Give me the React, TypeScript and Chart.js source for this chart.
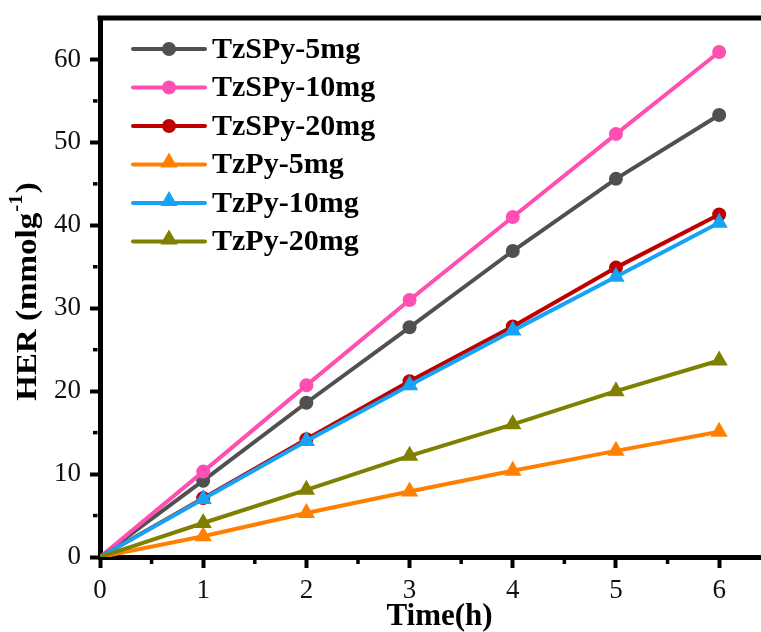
import React, { useEffect, useRef } from 'react';
import { Chart, registerables } from 'chart.js';

Chart.register(...registerables);

// ---- data ----
const times = [0, 1, 2, 3, 4, 5, 6];
const seriesLabels = ['TzSPy-5mg', 'TzSPy-10mg', 'TzSPy-20mg', 'TzPy-5mg', 'TzPy-10mg', 'TzPy-20mg'];
const tzspy5 = [0, 9.2, 18.6, 27.7, 36.9, 45.6, 53.3];
const tzspy10 = [0, 10.3, 20.7, 31.0, 41.0, 51.0, 60.9];
const tzspy20 = [0, 7.1, 14.2, 21.2, 27.8, 34.9, 41.3];
const tzpy5 = [0, 2.5, 5.3, 7.9, 10.4, 12.8, 15.1];
const tzpy10 = [0, 7.0, 14.0, 20.7, 27.3, 33.8, 40.3];
const tzpy20 = [0, 4.1, 8.1, 12.2, 16.0, 20.0, 23.7];
const xTicks = [0, 1, 2, 3, 4, 5, 6];
const xMinorTicks = [0.5, 1.5, 2.5, 3.5, 4.5, 5.5, 6.5];
const yTicks = [0, 10, 20, 30, 40, 50, 60];
const yMinorTicks = [5, 15, 25, 35, 45, 55];
const xTitle = 'Time(h)';
const yTitleMain = 'HER (mmolg';
const yTitleSup = '-1';
const yTitleEnd = ')';

const seriesValues = [tzspy5, tzspy10, tzspy20, tzpy5, tzpy10, tzpy20];
const seriesColors = ['#505050', '#FF4FB2', '#C00000', '#FF8000', '#16A2F5', '#808000'];
const seriesMarkers = ['circle', 'circle', 'circle', 'triangle', 'triangle', 'triangle'];

const SERIF = '"Liberation Serif", "Times New Roman", Times, serif';
const W = 779;
const H = 632;

function drawMarker(ctx: CanvasRenderingContext2D, style: string, x: number, y: number, r: number, color: string) {
  ctx.fillStyle = color;
  ctx.beginPath();
  if (style === 'circle') {
    ctx.arc(x, y, r, 0, Math.PI * 2);
  } else {
    ctx.moveTo(x, y - r);
    ctx.lineTo(x - r * 0.866, y + r * 0.5);
    ctx.lineTo(x + r * 0.866, y + r * 0.5);
    ctx.closePath();
  }
  ctx.fill();
}

const decorPlugin = {
  id: 'decor',
  afterDraw(chart: any) {
    const ctx: CanvasRenderingContext2D = chart.ctx;
    const area = chart.chartArea;
    const xs = chart.scales.x;
    const ys = chart.scales.y;
    ctx.save();
    // top frame line
    ctx.strokeStyle = '#000';
    ctx.lineWidth = 5;
    ctx.beginPath();
    ctx.moveTo(area.left - 2.5, area.top);
    ctx.lineTo(chart.width, area.top);
    ctx.stroke();
    // minor ticks
    ctx.lineWidth = 3.5;
    yMinorTicks.forEach((v) => {
      const p = ys.getPixelForValue(v);
      ctx.beginPath();
      ctx.moveTo(area.left - 2.5, p);
      ctx.lineTo(area.left - 7, p);
      ctx.stroke();
    });
    xMinorTicks.forEach((v) => {
      const p = xs.getPixelForValue(v);
      ctx.beginPath();
      ctx.moveTo(p, area.bottom + 2.5);
      ctx.lineTo(p, area.bottom + 7);
      ctx.stroke();
    });

    // legend
    const lx0 = 133, lx1 = 205, mx = 169, tx = 212, ly0 = 49, step = 38.5;
    chart.data.datasets.forEach((ds: any, i: number) => {
      const y = ly0 + i * step;
      ctx.strokeStyle = ds.borderColor;
      ctx.lineWidth = 4;
      ctx.lineCap = 'round';
      ctx.beginPath();
      ctx.moveTo(lx0, y);
      ctx.lineTo(lx1, y);
      ctx.stroke();
      const isCircle = seriesMarkers[i] === 'circle';
      drawMarker(ctx, seriesMarkers[i], mx, isCircle ? y : y - 2, isCircle ? 7 : 10, ds.backgroundColor);
      ctx.fillStyle = '#000';
      ctx.font = `bold 30px ${SERIF}`;
      ctx.textAlign = 'left';
      ctx.textBaseline = 'middle';
      ctx.fillText(ds.label, tx, y + 1);
    });

    // y axis title with superscript (slightly stretched along its length)
    ctx.translate(28, 291.5);
    ctx.rotate(-Math.PI / 2);
    ctx.scale(1.1, 1);
    ctx.fillStyle = '#000';
    ctx.textBaseline = 'middle';
    ctx.textAlign = 'left';
    const mainFont = `bold 30px ${SERIF}`;
    const supFont = `bold 19px ${SERIF}`;
    ctx.font = mainFont;
    const wMain = ctx.measureText(yTitleMain).width;
    const wEnd = ctx.measureText(yTitleEnd).width;
    ctx.font = supFont;
    const wSup = ctx.measureText(yTitleSup).width;
    const total = wMain + wSup + wEnd + 2;
    let x = -total / 2;
    ctx.font = mainFont;
    ctx.fillText(yTitleMain, x, 0);
    x += wMain + 1;
    ctx.font = supFont;
    ctx.fillText(yTitleSup, x, -11);
    x += wSup + 1;
    ctx.font = mainFont;
    ctx.fillText(yTitleEnd, x, 0);
    ctx.restore();
  },
};

export default function App() {
  const ref = useRef<HTMLCanvasElement | null>(null);

  useEffect(() => {
    if (!ref.current) return;
    const datasets = seriesLabels.map((label, i) => ({
      label,
      data: times.map((t, j) => ({ x: t, y: seriesValues[i][j] })),
      borderColor: seriesColors[i],
      backgroundColor: seriesColors[i],
      borderWidth: 4,
      pointStyle: seriesMarkers[i],
      pointRadius: (c: any) => (c.dataIndex === 0 ? 0 : seriesMarkers[i] === 'circle' ? 7 : 10),
      pointBorderWidth: 0,
      pointHoverRadius: 0,
      tension: 0,
      order: seriesLabels.length - i,
    }));

    const chart = new Chart(ref.current, {
      type: 'line',
      data: { datasets },
      options: {
        responsive: false,
        animation: false,
        devicePixelRatio: 1,
        layout: { autoPadding: false, padding: { top: 18, left: 0, right: 0, bottom: 0 } },
        plugins: { legend: { display: false }, tooltip: { enabled: false } },
        scales: {
          x: {
            type: 'linear',
            min: 0,
            max: 6.58,
            afterBuildTicks: (s: any) => {
              s.ticks = xTicks.map((v) => ({ value: v }));
            },
            afterFit: (s: any) => {
              s.height = 75;
              s.paddingLeft = 0;
              s.paddingRight = 0;
            },
            grid: { display: true, drawOnChartArea: false, drawTicks: true, tickLength: 11, tickWidth: 4, tickColor: '#000' },
            border: { display: true, color: '#000', width: 5 },
            ticks: { font: { family: SERIF, size: 27 }, color: '#111', padding: 7, maxRotation: 0, autoSkip: false },
            title: {
              display: true,
              text: xTitle,
              color: '#000',
              font: { family: SERIF, size: 31, weight: 'bold' },
              padding: { top: 0, bottom: -4 },
            },
          },
          y: {
            type: 'linear',
            min: 0,
            max: 65,
            afterBuildTicks: (s: any) => {
              s.ticks = yTicks.map((v) => ({ value: v }));
            },
            afterFit: (s: any) => {
              s.width = 100;
              s.paddingTop = 0;
              s.paddingBottom = 0;
            },
            grid: { display: true, drawOnChartArea: false, drawTicks: true, tickLength: 10, tickWidth: 4, tickColor: '#000' },
            border: { display: true, color: '#000', width: 5 },
            ticks: { font: { family: SERIF, size: 27 }, color: '#111', padding: 9, autoSkip: false },
          },
        },
      },
      plugins: [decorPlugin],
    } as any);

    return () => chart.destroy();
  }, []);

  return (
    <div style={{ position: 'fixed', left: 0, top: 0, width: 761, height: H, overflow: 'hidden', background: '#fff' }}>
      <canvas ref={ref} width={W} height={H} style={{ display: 'block', width: W, height: H }} />
    </div>
  );
}
